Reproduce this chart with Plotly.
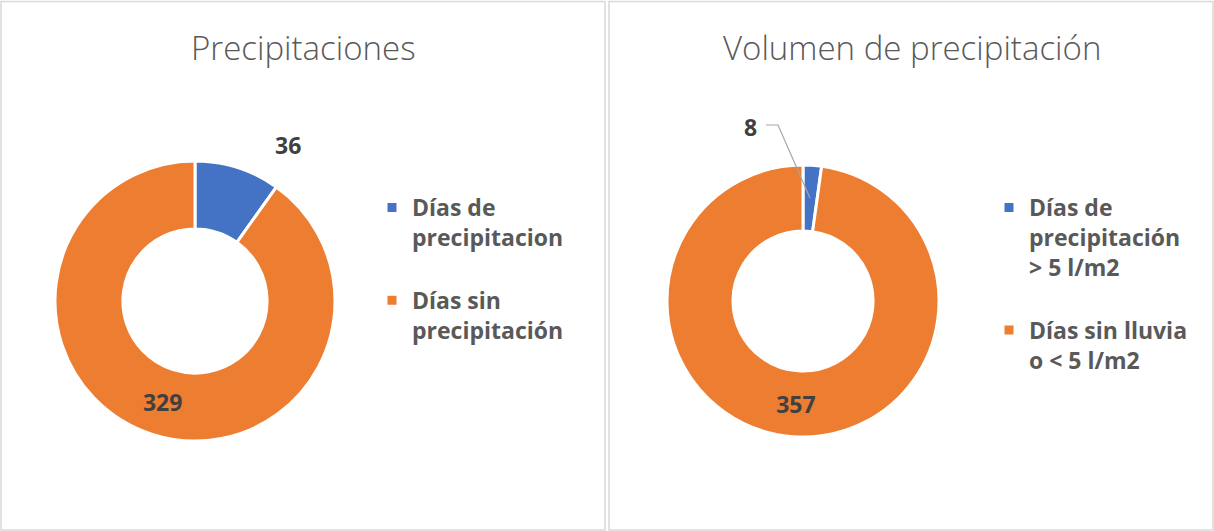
import math
import plotly.graph_objects as go

# ---- data ----
left_title = "Precipitaciones"
left_labels = ["Días de<br>precipitacion<br> ", "Días sin<br>precipitación"]
left_values = [36, 329]

right_title = "Volumen de precipitación"
right_labels = ["Días de<br>precipitación<br>> 5 l/m2<br> ", "Días sin lluvia<br>o < 5 l/m2"]
right_values = [8, 357]

colors = ["#4472C4", "#ED7D31"]

W, H = 1214, 531
FONT = "Open Sans"
label_font = dict(family=FONT, size=23, color="#404040", weight=700)
legend_font = dict(family=FONT, size=23, color="#595959", weight=700)
title_font = dict(family=FONT, size=33, color="#595959", weight=300)

def px_x(x):
    return x / W

def px_y(y):
    return 1 - y / H

# pie geometry (pixels): centre and radius
L_c, L_r = (195, 301), 140
R_c, R_r = (803, 301), 136
HOLE = 0.515

def domain(c, r):
    return dict(x=[px_x(c[0] - r), px_x(c[0] + r)], y=[px_y(c[1] + r), px_y(c[1] - r)])

fig = go.Figure()

fig.add_trace(go.Pie(
    labels=left_labels, values=left_values, hole=HOLE, sort=False,
    direction="clockwise", rotation=0,
    marker=dict(colors=colors, line=dict(color="white", width=3)),
    texttemplate=["", "%{value}"], textposition=["none", "inside"],
    insidetextorientation="horizontal", textfont=label_font,
    domain=domain(L_c, L_r), legend="legend", hoverinfo="label+value",
))
fig.add_trace(go.Pie(
    labels=right_labels, values=right_values, hole=HOLE, sort=False,
    direction="clockwise", rotation=0,
    marker=dict(colors=colors, line=dict(color="white", width=3)),
    texttemplate=["", "%{value}"], textposition=["none", "inside"],
    insidetextorientation="horizontal", textfont=label_font,
    domain=domain(R_c, R_r), legend="legend2", hoverinfo="label+value",
))

annotations = []
shapes = []

# titles
annotations.append(dict(text=left_title, x=px_x(303), y=px_y(47), xref="paper", yref="paper",
                        showarrow=False, font=title_font, xanchor="center", yanchor="middle"))
annotations.append(dict(text=right_title, x=px_x(912), y=px_y(47), xref="paper", yref="paper",
                        showarrow=False, font=title_font, xanchor="center", yanchor="middle"))

# small-slice label (left): outside the slice
annotations.append(dict(text=str(left_values[0]), x=px_x(288), y=px_y(145), xref="paper", yref="paper",
                        showarrow=False, font=label_font, xanchor="center", yanchor="middle"))

# small-slice label (right) with leader line
annotations.append(dict(text=str(right_values[0]), x=px_x(750), y=px_y(127), xref="paper", yref="paper",
                        showarrow=False, font=label_font, xanchor="center", yanchor="middle"))
mid_ang = math.radians(right_values[0] / sum(right_values) * 360 / 2)
mid_r = R_r * (1 + HOLE) / 2
ex = R_c[0] + mid_r * math.sin(mid_ang)
ey = R_c[1] - mid_r * math.cos(mid_ang)
shapes.append(dict(type="path", xref="paper", yref="paper",
                   path=f"M{px_x(766)},{px_y(125)} L{px_x(778)},{px_y(125)} L{px_x(ex)},{px_y(ey)}",
                   line=dict(color="#A6A6A6", width=1.2)))

# chart area borders
for x0, x1 in [(1, 605), (609, 1213)]:
    shapes.append(dict(type="rect", xref="paper", yref="paper",
                       x0=px_x(x0), x1=px_x(x1), y0=px_y(530), y1=px_y(1.5),
                       line=dict(color="#D9D9D9", width=1.5), fillcolor="rgba(0,0,0,0)", layer="below"))

fig.update_layout(
    width=W, height=H, margin=dict(l=0, r=0, t=0, b=0),
    paper_bgcolor="white", plot_bgcolor="white",
    showlegend=True,
    legend=dict(x=px_x(372), y=px_y(186), xanchor="left", yanchor="top",
                font=legend_font, valign="top", bgcolor="rgba(0,0,0,0)"),
    legend2=dict(x=px_x(989), y=px_y(186), xanchor="left", yanchor="top",
                 font=legend_font, valign="top", bgcolor="rgba(0,0,0,0)"),
    annotations=annotations, shapes=shapes,
)

fig.write_html("out.html", config={"displayModeBar": False},
               post_script="document.body.style.margin='0';document.body.style.overflow='hidden';")
